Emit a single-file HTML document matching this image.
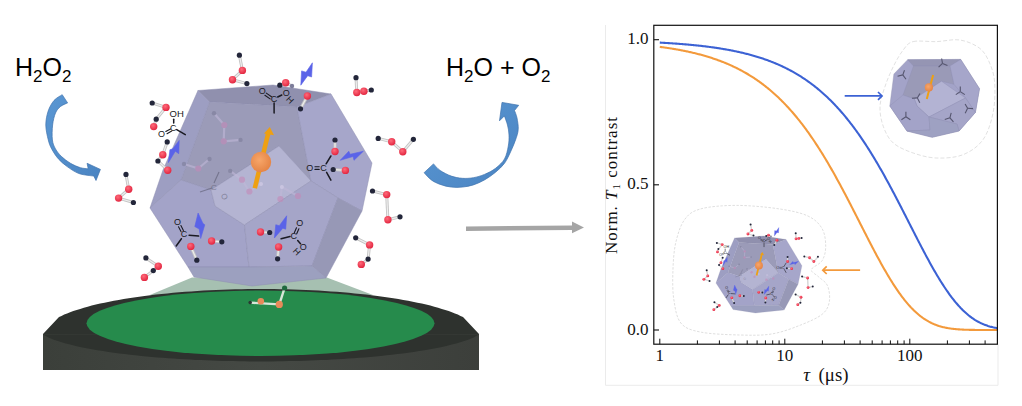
<!DOCTYPE html>
<html><head><meta charset="utf-8"><style>
html,body{margin:0;padding:0;background:#fff;width:1022px;height:406px;overflow:hidden}
svg{display:block;font-family:"Liberation Sans",sans-serif}
</style></head><body><svg width="1022" height="406" viewBox="0 0 1022 406"><defs><linearGradient id="side" x1="0" y1="0" x2="1" y2="0"><stop offset="0" stop-color="#3b3f3a"/><stop offset="0.5" stop-color="#454944"/><stop offset="1" stop-color="#3c3f3b"/></linearGradient><linearGradient id="barrow" x1="0" y1="0" x2="1" y2="1"><stop offset="0" stop-color="#5a97d3"/><stop offset="1" stop-color="#4a84c2"/></linearGradient><radialGradient id="ball" cx="0.42" cy="0.4" r="0.65"><stop offset="0" stop-color="#f7a66a"/><stop offset="1" stop-color="#e48242"/></radialGradient><radialGradient id="rball" cx="0.4" cy="0.35" r="0.7"><stop offset="0" stop-color="#ff6a7a"/><stop offset="1" stop-color="#e0213c"/></radialGradient><clipPath id="platclip"><rect x="43" y="250" width="436" height="130"/></clipPath></defs><polygon points="192.0,277.5 326.8,277.5 373.0,295.0 149.8,295.0" fill="#a6c0b1" /><path d="M43,334 L43,370 L479,370 L479,334 Z" fill="url(#side)"/><polygon points="43.0,334.0 59.0,317.1 61.5,315.9 64.2,314.6 67.1,313.4 70.1,312.3 73.3,311.1 76.7,310.0 80.2,308.9 83.9,307.8 87.7,306.7 91.7,305.6 95.9,304.6 100.2,303.6 104.6,302.7 109.2,301.7 113.9,300.8 118.7,299.9 123.7,299.1 128.7,298.2 133.9,297.4 139.2,296.7 144.6,295.9 150.2,295.3 155.8,294.6 161.5,294.0 167.3,293.4 173.1,292.8 179.1,292.3 185.1,291.8 191.2,291.4 197.3,291.0 203.5,290.6 209.8,290.3 216.1,290.0 222.4,289.7 228.8,289.5 235.2,289.3 241.6,289.2 248.1,289.1 254.5,289.0 261.0,289.0 267.5,289.0 273.9,289.1 280.4,289.2 286.8,289.3 293.2,289.5 299.6,289.7 305.9,290.0 312.2,290.3 318.5,290.6 324.7,291.0 330.8,291.4 336.9,291.8 342.9,292.3 348.9,292.8 354.7,293.4 360.5,294.0 366.2,294.6 371.8,295.3 377.4,295.9 382.8,296.7 388.1,297.4 393.3,298.2 398.3,299.1 403.3,299.9 408.1,300.8 412.8,301.7 417.4,302.7 421.8,303.6 426.1,304.6 430.3,305.6 434.3,306.7 438.1,307.8 441.8,308.9 445.3,310.0 448.7,311.1 451.9,312.3 454.9,313.4 457.8,314.6 460.5,315.9 463.0,317.1 479.0,334.0 43.0,334.5 48.5,337.4 53.9,339.7 59.4,341.5 64.8,343.2 70.2,344.6 75.7,346.0 81.2,347.2 86.6,348.3 92.0,349.3 97.5,350.2 103.0,351.1 108.4,351.9 113.8,352.7 119.3,353.4 124.8,354.1 130.2,354.7 135.7,355.3 141.1,355.9 146.6,356.4 152.0,356.9 157.4,357.4 162.9,357.8 168.3,358.2 173.8,358.6 179.2,359.0 184.7,359.3 190.2,359.6 195.6,359.9 201.1,360.1 206.5,360.3 211.9,360.5 217.4,360.7 222.8,360.9 228.3,361.0 233.8,361.1 239.2,361.2 244.7,361.3 250.1,361.4 255.6,361.4 261.0,361.4 266.4,361.4 271.9,361.4 277.4,361.3 282.8,361.2 288.2,361.1 293.7,361.0 299.1,360.9 304.6,360.7 310.1,360.5 315.5,360.3 320.9,360.1 326.4,359.9 331.9,359.6 337.3,359.3 342.8,359.0 348.2,358.6 353.6,358.2 359.1,357.8 364.6,357.4 370.0,356.9 375.4,356.4 380.9,355.9 386.4,355.3 391.8,354.7 397.2,354.1 402.7,353.4 408.1,352.7 413.6,351.9 419.1,351.1 424.5,350.2 429.9,349.3 435.4,348.3 440.9,347.2 446.3,346.0 451.8,344.6 457.2,343.2 462.6,341.5 468.1,339.7 473.6,337.4 479.0,334.5" fill="#2e322e" /><ellipse cx="260.5" cy="323.3" rx="174" ry="32.7" fill="#268b4c"/><g><line x1="250.2" y1="302.6" x2="279.3" y2="304.4" stroke="#d8e6d8" stroke-width="2.4"/><line x1="279.3" y1="304.4" x2="284.6" y2="288" stroke="#d8e6d8" stroke-width="2.4"/><circle cx="250.2" cy="302.6" r="1.8" fill="#2b3a33"/><circle cx="260.8" cy="301.2" r="3.3" fill="#e88a5a"/><circle cx="279.3" cy="304.4" r="3.6" fill="#e88a5a"/><circle cx="284.6" cy="288" r="2.6" fill="#1f6a3e"/></g><polygon points="198.0,90.5 273.0,85.0 331.0,94.0 297.0,107.0 209.5,102.0" fill="#9090ae" stroke="#8f8fb0" stroke-width="0.5" stroke-linejoin="round"/><polygon points="209.5,102.0 297.0,107.0 311.0,181.0 279.0,146.0 211.0,190.0 181.0,180.0" fill="#9b9bb8" stroke="#8f8fb0" stroke-width="0.5" stroke-linejoin="round"/><polygon points="198.0,90.5 209.5,102.0 181.0,180.0 150.0,208.0 163.0,170.0" fill="#9d9ec2" stroke="#8f8fb0" stroke-width="0.5" stroke-linejoin="round"/><polygon points="331.0,94.0 372.0,163.0 362.0,211.0 338.0,198.0 311.0,181.0 297.0,107.0" fill="#a6a6ca" stroke="#8f8fb0" stroke-width="0.5" stroke-linejoin="round"/><polygon points="150.0,208.0 181.0,180.0 211.0,190.0 215.0,206.0 244.5,225.0 249.0,267.0 188.0,267.0" fill="#a3a3c8" stroke="#8f8fb0" stroke-width="0.5" stroke-linejoin="round"/><polygon points="211.0,190.0 279.0,146.0 311.0,181.0 244.5,225.0 215.0,206.0" fill="#b4b4d2" stroke="#8f8fb0" stroke-width="0.5" stroke-linejoin="round"/><polygon points="244.5,225.0 311.0,181.0 338.0,198.0 312.0,266.0 249.0,267.0" fill="#a5a5c8" stroke="#8f8fb0" stroke-width="0.5" stroke-linejoin="round"/><polygon points="338.0,198.0 362.0,211.0 326.0,278.0 312.0,266.0" fill="#9798b6" stroke="#8f8fb0" stroke-width="0.5" stroke-linejoin="round"/><polygon points="188.0,267.0 249.0,267.0 312.0,266.0 326.0,278.0 252.0,286.0 194.0,277.0" fill="#9ca0bf" stroke="#8f8fb0" stroke-width="0.5" stroke-linejoin="round"/><g opacity="0.60"><line x1="214.0" y1="113.3" x2="224.3" y2="125.0" stroke="#c0b8d8" stroke-width="2.2"/><line x1="224.3" y1="125.0" x2="223.7" y2="141.3" stroke="#c0b8d8" stroke-width="2.2"/><line x1="223.7" y1="141.3" x2="240.5" y2="139.9" stroke="#c0b8d8" stroke-width="2.2"/><circle cx="214.0" cy="113.3" r="2.2" fill="#7d7d9a"/><circle cx="224.3" cy="125.0" r="3.1" fill="#c48ab8"/><circle cx="223.7" cy="141.3" r="3.1" fill="#c48ab8"/><circle cx="240.5" cy="139.9" r="2.2" fill="#7d7d9a"/></g><g opacity="0.60"><line x1="209.5" y1="159.0" x2="198.3" y2="168.5" stroke="#c0b8d8" stroke-width="2.2"/><line x1="198.3" y1="168.5" x2="184.0" y2="164.0" stroke="#c0b8d8" stroke-width="2.2"/><circle cx="209.5" cy="159.0" r="2.2" fill="#7d7d9a"/><circle cx="198.3" cy="168.5" r="3.1" fill="#c48ab8"/><circle cx="184.0" cy="164.0" r="2.2" fill="#7d7d9a"/></g><g opacity="0.60"><line x1="230.2" y1="170.9" x2="242.0" y2="179.7" stroke="#c0b8d8" stroke-width="2.2"/><line x1="242.0" y1="179.7" x2="249.4" y2="191.5" stroke="#c0b8d8" stroke-width="2.2"/><line x1="249.4" y1="191.5" x2="261.0" y2="184.0" stroke="#c0b8d8" stroke-width="2.2"/><circle cx="230.2" cy="170.9" r="2.2" fill="#7d7d9a"/><circle cx="242.0" cy="179.7" r="3.1" fill="#c48ab8"/><circle cx="249.4" cy="191.5" r="3.1" fill="#c48ab8"/><circle cx="261.0" cy="184.0" r="2.0" fill="#d8d0ea"/></g><g opacity="0.60"><line x1="280.4" y1="199.0" x2="281.9" y2="187.0" stroke="#c0b8d8" stroke-width="2.2"/><line x1="281.9" y1="187.0" x2="298.0" y2="196.0" stroke="#c0b8d8" stroke-width="2.2"/><circle cx="280.4" cy="199.0" r="3.1" fill="#c48ab8"/><circle cx="281.9" cy="187.0" r="2.0" fill="#d8d0ea"/><circle cx="298.0" cy="196.0" r="3.1" fill="#c48ab8"/></g><g opacity="0.55"><line x1="200" y1="192" x2="212" y2="188" stroke="#55556a" stroke-width="1.1"/><line x1="214" y1="183" x2="219" y2="172" stroke="#55556a" stroke-width="1.1"/><text x="214" y="190" font-family="Liberation Sans" font-size="8" fill="#55556a" text-anchor="middle">C</text><text transform="translate(222,198) rotate(60)" font-family="Liberation Sans" font-size="8" fill="#55556a" text-anchor="middle">O</text></g><line x1="254.8" y1="188.3" x2="268.3" y2="133" stroke="#eea012" stroke-width="4.6"/><polygon points="264.0,133.5 274.0,135.3 269.8,127.0" fill="#eea012" /><circle cx="261" cy="162" r="10.2" fill="url(#ball)"/><g opacity="1.00"><line x1="152.2" y1="103.0" x2="166.0" y2="107.4" stroke="#c4c4c4" stroke-width="3"/><line x1="152.2" y1="103.0" x2="166.0" y2="107.4" stroke="#eeeeee" stroke-width="1.2"/><line x1="166.0" y1="107.4" x2="156.2" y2="119.2" stroke="#c4c4c4" stroke-width="3"/><line x1="166.0" y1="107.4" x2="156.2" y2="119.2" stroke="#eeeeee" stroke-width="1.2"/><line x1="156.2" y1="119.2" x2="153.7" y2="126.6" stroke="#c4c4c4" stroke-width="3"/><line x1="156.2" y1="119.2" x2="153.7" y2="126.6" stroke="#eeeeee" stroke-width="1.2"/><circle cx="152.2" cy="103.0" r="2.6" fill="#23263a"/><circle cx="166.0" cy="107.4" r="3.7" fill="url(#rball)"/><circle cx="156.2" cy="119.2" r="2.6" fill="#23263a"/><circle cx="153.7" cy="126.6" r="3.7" fill="url(#rball)"/></g><g opacity="1.00"><line x1="167.2" y1="141.9" x2="162.8" y2="154.7" stroke="#c4c4c4" stroke-width="3"/><line x1="167.2" y1="141.9" x2="162.8" y2="154.7" stroke="#eeeeee" stroke-width="1.2"/><line x1="162.8" y1="154.7" x2="157.9" y2="161.0" stroke="#c4c4c4" stroke-width="3"/><line x1="162.8" y1="154.7" x2="157.9" y2="161.0" stroke="#eeeeee" stroke-width="1.2"/><line x1="157.9" y1="161.0" x2="167.7" y2="170.2" stroke="#c4c4c4" stroke-width="3"/><line x1="157.9" y1="161.0" x2="167.7" y2="170.2" stroke="#eeeeee" stroke-width="1.2"/><circle cx="167.2" cy="141.9" r="2.6" fill="#23263a"/><circle cx="162.8" cy="154.7" r="3.7" fill="url(#rball)"/><circle cx="157.9" cy="161.0" r="2.6" fill="#23263a"/><circle cx="167.7" cy="170.2" r="3.7" fill="url(#rball)"/></g><g opacity="1.00"><line x1="126.0" y1="174.4" x2="128.7" y2="189.2" stroke="#c4c4c4" stroke-width="3"/><line x1="126.0" y1="174.4" x2="128.7" y2="189.2" stroke="#eeeeee" stroke-width="1.2"/><line x1="128.7" y1="189.2" x2="118.6" y2="198.1" stroke="#c4c4c4" stroke-width="3"/><line x1="128.7" y1="189.2" x2="118.6" y2="198.1" stroke="#eeeeee" stroke-width="1.2"/><line x1="118.6" y1="198.1" x2="133.4" y2="202.5" stroke="#c4c4c4" stroke-width="3"/><line x1="118.6" y1="198.1" x2="133.4" y2="202.5" stroke="#eeeeee" stroke-width="1.2"/><circle cx="126.0" cy="174.4" r="2.6" fill="#23263a"/><circle cx="128.7" cy="189.2" r="3.7" fill="url(#rball)"/><circle cx="118.6" cy="198.1" r="3.7" fill="url(#rball)"/><circle cx="133.4" cy="202.5" r="2.6" fill="#23263a"/></g><g opacity="1.00"><line x1="145.9" y1="257.9" x2="158.3" y2="266.2" stroke="#c4c4c4" stroke-width="3"/><line x1="145.9" y1="257.9" x2="158.3" y2="266.2" stroke="#eeeeee" stroke-width="1.2"/><line x1="158.3" y1="266.2" x2="153.3" y2="270.6" stroke="#c4c4c4" stroke-width="3"/><line x1="158.3" y1="266.2" x2="153.3" y2="270.6" stroke="#eeeeee" stroke-width="1.2"/><line x1="153.3" y1="270.6" x2="144.4" y2="277.4" stroke="#c4c4c4" stroke-width="3"/><line x1="153.3" y1="270.6" x2="144.4" y2="277.4" stroke="#eeeeee" stroke-width="1.2"/><circle cx="145.9" cy="257.9" r="2.6" fill="#23263a"/><circle cx="158.3" cy="266.2" r="3.7" fill="url(#rball)"/><circle cx="153.3" cy="270.6" r="2.6" fill="#23263a"/><circle cx="144.4" cy="277.4" r="3.7" fill="url(#rball)"/></g><g opacity="1.00"><line x1="239.4" y1="55.2" x2="242.4" y2="70.4" stroke="#c4c4c4" stroke-width="3"/><line x1="239.4" y1="55.2" x2="242.4" y2="70.4" stroke="#eeeeee" stroke-width="1.2"/><line x1="242.4" y1="70.4" x2="232.5" y2="79.7" stroke="#c4c4c4" stroke-width="3"/><line x1="242.4" y1="70.4" x2="232.5" y2="79.7" stroke="#eeeeee" stroke-width="1.2"/><line x1="232.5" y1="79.7" x2="246.9" y2="83.6" stroke="#c4c4c4" stroke-width="3"/><line x1="232.5" y1="79.7" x2="246.9" y2="83.6" stroke="#eeeeee" stroke-width="1.2"/><circle cx="239.4" cy="55.2" r="2.6" fill="#23263a"/><circle cx="242.4" cy="70.4" r="3.7" fill="url(#rball)"/><circle cx="232.5" cy="79.7" r="3.7" fill="url(#rball)"/><circle cx="246.9" cy="83.6" r="2.6" fill="#23263a"/></g><g opacity="1.00"><line x1="279.8" y1="85.2" x2="285.7" y2="82.8" stroke="#c4c4c4" stroke-width="3"/><line x1="279.8" y1="85.2" x2="285.7" y2="82.8" stroke="#eeeeee" stroke-width="1.2"/><line x1="285.7" y1="82.8" x2="292.0" y2="86.0" stroke="#c4c4c4" stroke-width="3"/><line x1="285.7" y1="82.8" x2="292.0" y2="86.0" stroke="#eeeeee" stroke-width="1.2"/><circle cx="279.8" cy="85.2" r="2.6" fill="#23263a"/><circle cx="285.7" cy="82.8" r="3.7" fill="url(#rball)"/><circle cx="292.0" cy="86.0" r="2.2" fill="#7d7d9a"/></g><g opacity="1.00"><line x1="307.4" y1="96.0" x2="300.5" y2="108.8" stroke="#c4c4c4" stroke-width="3"/><line x1="307.4" y1="96.0" x2="300.5" y2="108.8" stroke="#eeeeee" stroke-width="1.2"/><circle cx="307.4" cy="96.0" r="3.7" fill="url(#rball)"/><circle cx="300.5" cy="108.8" r="2.6" fill="#23263a"/></g><g opacity="1.00"><line x1="356.0" y1="77.7" x2="356.8" y2="92.5" stroke="#c4c4c4" stroke-width="3"/><line x1="356.0" y1="77.7" x2="356.8" y2="92.5" stroke="#eeeeee" stroke-width="1.2"/><line x1="356.8" y1="92.5" x2="363.9" y2="91.3" stroke="#c4c4c4" stroke-width="3"/><line x1="356.8" y1="92.5" x2="363.9" y2="91.3" stroke="#eeeeee" stroke-width="1.2"/><line x1="363.9" y1="91.3" x2="371.3" y2="90.0" stroke="#c4c4c4" stroke-width="3"/><line x1="363.9" y1="91.3" x2="371.3" y2="90.0" stroke="#eeeeee" stroke-width="1.2"/><circle cx="356.0" cy="77.7" r="2.6" fill="#23263a"/><circle cx="356.8" cy="92.5" r="3.7" fill="url(#rball)"/><circle cx="363.9" cy="91.3" r="3.7" fill="url(#rball)"/><circle cx="371.3" cy="90.0" r="2.6" fill="#23263a"/></g><g opacity="1.00"><line x1="378.2" y1="138.4" x2="391.7" y2="141.8" stroke="#c4c4c4" stroke-width="3"/><line x1="378.2" y1="138.4" x2="391.7" y2="141.8" stroke="#eeeeee" stroke-width="1.2"/><line x1="391.7" y1="141.8" x2="402.8" y2="151.7" stroke="#c4c4c4" stroke-width="3"/><line x1="391.7" y1="141.8" x2="402.8" y2="151.7" stroke="#eeeeee" stroke-width="1.2"/><line x1="402.8" y1="151.7" x2="413.4" y2="139.3" stroke="#c4c4c4" stroke-width="3"/><line x1="402.8" y1="151.7" x2="413.4" y2="139.3" stroke="#eeeeee" stroke-width="1.2"/><circle cx="378.2" cy="138.4" r="2.6" fill="#23263a"/><circle cx="391.7" cy="141.8" r="3.7" fill="url(#rball)"/><circle cx="402.8" cy="151.7" r="3.7" fill="url(#rball)"/><circle cx="413.4" cy="139.3" r="2.6" fill="#23263a"/></g><g opacity="1.00"><line x1="372.5" y1="191.0" x2="386.7" y2="194.6" stroke="#c4c4c4" stroke-width="3"/><line x1="372.5" y1="191.0" x2="386.7" y2="194.6" stroke="#eeeeee" stroke-width="1.2"/><line x1="386.7" y1="194.6" x2="387.9" y2="219.8" stroke="#c4c4c4" stroke-width="3"/><line x1="386.7" y1="194.6" x2="387.9" y2="219.8" stroke="#eeeeee" stroke-width="1.2"/><line x1="387.9" y1="219.8" x2="400.0" y2="216.8" stroke="#c4c4c4" stroke-width="3"/><line x1="387.9" y1="219.8" x2="400.0" y2="216.8" stroke="#eeeeee" stroke-width="1.2"/><circle cx="372.5" cy="191.0" r="2.6" fill="#23263a"/><circle cx="386.7" cy="194.6" r="3.7" fill="url(#rball)"/><circle cx="387.9" cy="219.8" r="3.7" fill="url(#rball)"/><circle cx="400.0" cy="216.8" r="2.6" fill="#23263a"/></g><g opacity="1.00"><line x1="355.7" y1="237.8" x2="369.6" y2="244.9" stroke="#c4c4c4" stroke-width="3"/><line x1="355.7" y1="237.8" x2="369.6" y2="244.9" stroke="#eeeeee" stroke-width="1.2"/><line x1="369.6" y1="244.9" x2="368.1" y2="259.1" stroke="#c4c4c4" stroke-width="3"/><line x1="369.6" y1="244.9" x2="368.1" y2="259.1" stroke="#eeeeee" stroke-width="1.2"/><line x1="368.1" y1="259.1" x2="361.3" y2="264.4" stroke="#c4c4c4" stroke-width="3"/><line x1="368.1" y1="259.1" x2="361.3" y2="264.4" stroke="#eeeeee" stroke-width="1.2"/><circle cx="355.7" cy="237.8" r="2.6" fill="#23263a"/><circle cx="369.6" cy="244.9" r="3.7" fill="url(#rball)"/><circle cx="368.1" cy="259.1" r="2.6" fill="#23263a"/><circle cx="361.3" cy="264.4" r="3.7" fill="url(#rball)"/></g><g opacity="1.00"><line x1="335.0" y1="140.0" x2="335.0" y2="151.5" stroke="#c4c4c4" stroke-width="3"/><line x1="335.0" y1="140.0" x2="335.0" y2="151.5" stroke="#eeeeee" stroke-width="1.2"/><circle cx="335.0" cy="140.0" r="2.6" fill="#23263a"/><circle cx="335.0" cy="151.5" r="3.7" fill="url(#rball)"/></g><g opacity="1.00"><line x1="333.2" y1="169.5" x2="345.4" y2="170.4" stroke="#c4c4c4" stroke-width="3"/><line x1="333.2" y1="169.5" x2="345.4" y2="170.4" stroke="#eeeeee" stroke-width="1.2"/><circle cx="333.2" cy="169.5" r="2.6" fill="#23263a"/><circle cx="345.4" cy="170.4" r="3.7" fill="url(#rball)"/></g><g opacity="1.00"><line x1="190.8" y1="246.4" x2="196.8" y2="260.2" stroke="#c4c4c4" stroke-width="3"/><line x1="190.8" y1="246.4" x2="196.8" y2="260.2" stroke="#eeeeee" stroke-width="1.2"/><circle cx="190.8" cy="246.4" r="3.7" fill="url(#rball)"/><circle cx="196.8" cy="260.2" r="2.6" fill="#23263a"/></g><g opacity="1.00"><line x1="211.6" y1="241.0" x2="221.8" y2="241.8" stroke="#c4c4c4" stroke-width="3"/><line x1="211.6" y1="241.0" x2="221.8" y2="241.8" stroke="#eeeeee" stroke-width="1.2"/><circle cx="211.6" cy="241.0" r="3.7" fill="url(#rball)"/><circle cx="221.8" cy="241.8" r="2.6" fill="#23263a"/></g><g opacity="1.00"><line x1="260.5" y1="232.0" x2="269.7" y2="232.5" stroke="#c4c4c4" stroke-width="3"/><line x1="260.5" y1="232.0" x2="269.7" y2="232.5" stroke="#eeeeee" stroke-width="1.2"/><circle cx="260.5" cy="232.0" r="3.7" fill="url(#rball)"/><circle cx="269.7" cy="232.5" r="2.6" fill="#23263a"/></g><g opacity="1.00"><line x1="278.6" y1="247.0" x2="277.6" y2="258.8" stroke="#c4c4c4" stroke-width="3"/><line x1="278.6" y1="247.0" x2="277.6" y2="258.8" stroke="#eeeeee" stroke-width="1.2"/><circle cx="278.6" cy="247.0" r="3.7" fill="url(#rball)"/><circle cx="277.6" cy="258.8" r="2.6" fill="#23263a"/></g><text transform="translate(262.3,91.3) rotate(0.0)" font-family="Liberation Sans" font-size="9.0" text-anchor="middle" dominant-baseline="central" fill="#1a1a22">O</text><line x1="264.9" y1="95.3" x2="270.1" y2="98.9" stroke="#1a1a22" stroke-width="1.1" stroke-linecap="round"/><line x1="266.3" y1="93.1" x2="271.5" y2="96.7" stroke="#1a1a22" stroke-width="1.1" stroke-linecap="round"/><text transform="translate(274.1,99.1) rotate(0.0)" font-family="Liberation Sans" font-size="9.0" text-anchor="middle" dominant-baseline="central" fill="#1a1a22">C</text><line x1="277.7" y1="97.0" x2="281.8" y2="95.0" stroke="#1a1a22" stroke-width="1.5" stroke-linecap="round"/><text transform="translate(286.3,92.6) rotate(0.0)" font-family="Liberation Sans" font-size="9.0" text-anchor="middle" dominant-baseline="central" fill="#1a1a22">O</text><text transform="translate(289.9,99.9) rotate(45.0)" font-family="Liberation Sans" font-size="9.0" text-anchor="middle" dominant-baseline="central" fill="#1a1a22">H</text><line x1="274.1" y1="103.0" x2="274.1" y2="112.9" stroke="#1a1a22" stroke-width="1.5" stroke-linecap="round"/><text transform="translate(176.7,113.6) rotate(0.0)" font-family="Liberation Sans" font-size="9.5" text-anchor="middle" dominant-baseline="central" fill="#1a1a22">OH</text><line x1="173.7" y1="119.2" x2="173.7" y2="123.1" stroke="#1a1a22" stroke-width="1.5" stroke-linecap="round"/><text transform="translate(173.3,128.3) rotate(0.0)" font-family="Liberation Sans" font-size="9.0" text-anchor="middle" dominant-baseline="central" fill="#1a1a22">C</text><line x1="170.5" y1="128.9" x2="165.8" y2="131.5" stroke="#1a1a22" stroke-width="1.1" stroke-linecap="round"/><line x1="171.7" y1="131.1" x2="167.0" y2="133.7" stroke="#1a1a22" stroke-width="1.1" stroke-linecap="round"/><text transform="translate(161.6,134.3) rotate(0.0)" font-family="Liberation Sans" font-size="9.0" text-anchor="middle" dominant-baseline="central" fill="#1a1a22">O</text><line x1="176.7" y1="129.6" x2="185.3" y2="134.7" stroke="#1a1a22" stroke-width="1.5" stroke-linecap="round"/><text transform="translate(177.5,221.5) rotate(0.0)" font-family="Liberation Sans" font-size="9.0" text-anchor="middle" dominant-baseline="central" fill="#1a1a22">O</text><line x1="178.5" y1="226.8" x2="181.0" y2="231.6" stroke="#1a1a22" stroke-width="1.1" stroke-linecap="round"/><line x1="180.9" y1="225.6" x2="183.4" y2="230.4" stroke="#1a1a22" stroke-width="1.1" stroke-linecap="round"/><text transform="translate(184.0,234.4) rotate(0.0)" font-family="Liberation Sans" font-size="9.0" text-anchor="middle" dominant-baseline="central" fill="#1a1a22">C</text><line x1="189.1" y1="235.3" x2="198.6" y2="236.1" stroke="#1a1a22" stroke-width="1.5" stroke-linecap="round"/><line x1="181.4" y1="238.7" x2="176.2" y2="246.0" stroke="#1a1a22" stroke-width="1.5" stroke-linecap="round"/><text transform="translate(309.7,168.1) rotate(0.0)" font-family="Liberation Sans" font-size="9.0" text-anchor="middle" dominant-baseline="central" fill="#1a1a22">O</text><line x1="314.9" y1="169.4" x2="319.2" y2="169.4" stroke="#1a1a22" stroke-width="1.1" stroke-linecap="round"/><line x1="314.9" y1="166.8" x2="319.2" y2="166.8" stroke="#1a1a22" stroke-width="1.1" stroke-linecap="round"/><text transform="translate(323.5,168.1) rotate(0.0)" font-family="Liberation Sans" font-size="9.0" text-anchor="middle" dominant-baseline="central" fill="#1a1a22">C</text><line x1="326.1" y1="163.8" x2="330.9" y2="156.0" stroke="#1a1a22" stroke-width="1.5" stroke-linecap="round"/><line x1="326.6" y1="172.4" x2="330.9" y2="180.2" stroke="#1a1a22" stroke-width="1.5" stroke-linecap="round"/><text transform="translate(299.7,222.8) rotate(0.0)" font-family="Liberation Sans" font-size="9.0" text-anchor="middle" dominant-baseline="central" fill="#1a1a22">O</text><line x1="296.5" y1="227.8" x2="294.3" y2="232.8" stroke="#1a1a22" stroke-width="1.1" stroke-linecap="round"/><line x1="298.9" y1="228.8" x2="296.7" y2="233.8" stroke="#1a1a22" stroke-width="1.1" stroke-linecap="round"/><text transform="translate(293.8,236.0) rotate(0.0)" font-family="Liberation Sans" font-size="9.0" text-anchor="middle" dominant-baseline="central" fill="#1a1a22">C</text><line x1="297.7" y1="240.5" x2="300.5" y2="243.8" stroke="#1a1a22" stroke-width="1.5" stroke-linecap="round"/><text transform="translate(303.3,247.1) rotate(0.0)" font-family="Liberation Sans" font-size="9.0" text-anchor="middle" dominant-baseline="central" fill="#1a1a22">O</text><text transform="translate(296.6,251.6) rotate(45.0)" font-family="Liberation Sans" font-size="9.0" text-anchor="middle" dominant-baseline="central" fill="#1a1a22">H</text><line x1="290.0" y1="236.6" x2="281.1" y2="238.8" stroke="#1a1a22" stroke-width="1.5" stroke-linecap="round"/><polygon points="312.4,62.8 311.6,77.0 307.7,75.7 300.8,85.2 301.6,70.9 306.0,72.2" fill="#5a63e8" stroke="#5a63e8" stroke-width="0.6" stroke-linejoin="round"/><polygon points="363.4,151.2 354.0,160.3 353.1,156.5 340.2,160.3 348.8,151.2 350.1,154.3" fill="#5a63e8" stroke="#5a63e8" stroke-width="0.6" stroke-linejoin="round"/><polygon points="179.2,140.4 178.8,153.7 175.3,151.2 168.4,162.6 169.9,149.7 172.8,148.8" fill="#5a63e8" stroke="#5a63e8" stroke-width="0.6" stroke-linejoin="round"/><polygon points="286.7,215.8 285.7,229.2 282.8,228.2 274.4,238.0 275.8,224.7 279.3,225.7" fill="#5a63e8" stroke="#5a63e8" stroke-width="0.6" stroke-linejoin="round"/><polygon points="198.1,213.0 203.0,223.5 204.8,224.8 200.7,238.5 199.2,229.0 194.8,226.6" fill="#5a63e8" stroke="#5a63e8" stroke-width="0.6" stroke-linejoin="round"/><text x="15" y="76" font-family="Liberation Sans" font-size="25" fill="#000">H<tspan font-size="17" dy="6">2</tspan><tspan dy="-6">O</tspan><tspan font-size="17" dy="6">2</tspan></text><text x="446" y="76" font-family="Liberation Sans" font-size="25" fill="#000">H<tspan font-size="17" dy="6">2</tspan><tspan dy="-6">O + O</tspan><tspan font-size="17" dy="6">2</tspan></text><path d="M62.2,94.7 C60.8,95.7 56.3,97.8 54.0,100.5 C51.7,103.2 49.6,106.9 48.2,111.0 C46.8,115.1 45.8,120.2 45.8,125.0 C45.8,129.8 47.3,136.0 48.3,140.0 C49.3,144.0 50.0,145.8 51.7,148.9 C53.4,152.0 55.7,155.9 58.3,158.8 C60.9,161.8 63.9,164.2 67.2,166.6 C70.5,169.0 74.6,171.8 78.3,173.3 C82.0,174.8 86.7,175.1 89.3,175.5 C91.9,175.9 93.0,175.9 93.8,176.0 L96,180.5 L100.4,169.4 L87.1,163.3 L88.2,168.8 C86.9,168.6 83.5,168.6 80.5,167.7 C77.5,166.8 73.7,165.2 70.5,163.3 C67.3,161.5 64.1,159.0 61.6,156.6 C59.1,154.2 57.0,151.7 55.5,148.9 C54.0,146.1 52.9,144.0 52.4,140.0 C51.9,136.0 52.1,129.5 52.6,125.0 C53.1,120.5 54.2,116.1 55.5,113.0 C56.8,109.9 58.5,108.2 60.5,106.5 C62.5,104.8 66.4,103.5 67.6,102.9 Z" fill="url(#barrow)" stroke="#3f73ad" stroke-width="0.7"/><path d="M424.1,172.7 C425.3,173.9 428.6,177.9 431.3,179.9 C434.0,181.9 436.9,183.2 440.2,184.4 C443.5,185.6 447.6,186.7 451.3,187.1 C455.0,187.5 458.6,187.5 462.3,187.1 C466.0,186.7 469.7,186.1 473.4,184.9 C477.1,183.7 480.8,182.0 484.5,179.9 C488.2,177.8 492.3,175.0 495.6,172.2 C498.9,169.4 502.0,166.7 504.5,163.3 C507.0,159.9 508.7,155.9 510.5,152.0 C512.3,148.1 514.2,143.8 515.5,140.0 C516.8,136.2 518.0,133.1 518.2,129.4 C518.5,125.7 517.6,121.2 517.0,118.0 C516.4,114.8 514.9,111.8 514.5,110.5 L518.7,105.3 L502,102.4 L499.5,120.8 L504.4,115.9 C504.9,117.4 506.7,121.8 507.5,125.0 C508.3,128.2 508.9,131.5 509.0,135.0 C509.1,138.5 509.1,142.0 508.3,146.0 C507.6,150.0 506.6,155.2 504.5,158.9 C502.4,162.6 498.9,165.7 495.6,168.3 C492.3,170.9 488.2,172.8 484.5,174.4 C480.8,176.0 477.1,177.0 473.4,177.7 C469.7,178.3 466.0,178.6 462.3,178.3 C458.6,178.0 455.0,177.4 451.3,176.1 C447.6,174.8 443.2,172.5 440.2,170.5 C437.2,168.5 434.6,165.0 433.5,163.9 Z" fill="url(#barrow)" stroke="#3f73ad" stroke-width="0.7"/><polygon points="466.0,226.5 572.0,225.5 572.0,221.6 584.0,227.4 572.0,233.3 572.0,230.0 466.0,231.0" fill="#a5a5a5" /><path d="M605.5,25 V385.3 H998 V344" fill="none" stroke="#ebebeb" stroke-width="1"/><path d="M700.7,208.9 C709.3,206.5 723.3,205.4 736.4,205.4 C749.5,205.4 767.4,207.1 779.3,208.9 C791.2,210.7 800.8,212.7 807.9,216.0 C815.0,219.3 819.1,223.5 822.1,228.6 C825.1,233.7 825.7,241.1 825.7,246.4 C825.7,251.8 824.5,256.8 822.1,260.7 C819.7,264.6 812.0,266.9 811.4,269.6 C810.8,272.3 815.9,274.1 818.6,276.8 C821.3,279.5 825.7,281.5 827.5,285.7 C829.3,289.9 830.2,297.0 829.3,301.8 C828.4,306.6 826.9,310.4 822.1,314.3 C817.3,318.2 809.0,321.7 800.7,325.0 C792.4,328.3 782.2,332.2 772.1,333.9 C762.0,335.6 751.9,335.3 740.0,335.0 C728.1,334.7 710.5,334.1 700.7,332.1 C690.9,330.1 685.5,328.6 681.0,323.2 C676.5,317.8 675.2,308.6 673.9,300.0 C672.5,291.4 672.6,280.9 672.9,271.4 C673.2,261.9 673.8,251.5 675.7,242.9 C677.7,234.3 680.4,225.3 684.6,219.6 C688.8,213.9 692.1,211.3 700.7,208.9 Z" fill="none" stroke="#cdcdcd" stroke-width="0.65" stroke-dasharray="2.5,1.5"/><path d="M913.2,41.6 C918.8,40.2 928.7,41.9 936.5,41.6 C944.3,41.3 952.6,38.9 959.8,40.0 C967.0,41.1 974.7,44.4 979.7,48.3 C984.7,52.2 987.2,57.4 989.7,63.2 C992.2,69.0 994.2,74.9 994.7,83.2 C995.2,91.5 995.0,103.7 993.0,113.1 C991.0,122.5 988.0,132.8 983.0,139.7 C978.0,146.6 970.8,151.6 963.0,154.7 C955.2,157.8 944.8,158.3 936.5,158.0 C928.2,157.7 920.4,155.5 913.2,153.0 C906.0,150.5 898.3,147.4 893.3,143.0 C888.3,138.6 885.5,132.5 883.3,126.4 C881.1,120.3 879.7,113.2 880.0,106.5 C880.3,99.8 882.8,93.2 885.0,86.5 C887.2,79.8 890.3,72.7 893.3,66.6 C896.3,60.5 899.9,54.2 903.2,50.0 C906.5,45.8 907.7,43.0 913.2,41.6 Z" fill="none" stroke="#d0d0d0" stroke-width="0.65" stroke-dasharray="4,2"/><polygon points="907.7,59.7 960.7,59.4 979.5,88.7 975.4,112.4 959.1,131.0 932.2,137.3 906.9,131.0 889.8,105.9 893.9,74.0" fill="#a3a3c8" stroke="#8f8fb0" stroke-width="0.4"/><polygon points="907.7,59.7 960.7,59.4 950.0,66.0 913.5,66.0" fill="#9595b3" stroke="#9090b2" stroke-width="0.4" stroke-linejoin="round"/><polygon points="913.5,66.0 950.0,66.0 954.0,84.3 941.5,81.2 914.3,99.0 903.0,95.0" fill="#9a9ab7" stroke="#9090b2" stroke-width="0.4" stroke-linejoin="round"/><polygon points="960.7,59.4 979.5,88.7 975.4,112.4 965.5,98.0 954.0,84.3 950.0,66.0" fill="#a6a6ca" stroke="#9090b2" stroke-width="0.4" stroke-linejoin="round"/><polygon points="914.3,99.0 941.5,81.2 965.5,98.0 929.0,117.0 917.0,106.0" fill="#b3b3d3" stroke="#9090b2" stroke-width="0.4" stroke-linejoin="round"/><polygon points="965.5,98.0 975.4,112.4 959.1,131.0 957.0,124.0 929.0,117.0" fill="#a5a5c8" stroke="#9090b2" stroke-width="0.4" stroke-linejoin="round"/><polygon points="889.8,105.9 903.0,95.0 914.3,99.0 917.0,106.0 929.0,117.0 930.0,130.0 906.9,131.0" fill="#a3a3c8" stroke="#9090b2" stroke-width="0.4" stroke-linejoin="round"/><polygon points="929.0,117.0 957.0,124.0 959.1,131.0 932.2,137.3 906.9,131.0 930.0,130.0" fill="#9ea1c2" stroke="#9090b2" stroke-width="0.4" stroke-linejoin="round"/><line x1="926.8" y1="99" x2="933.1" y2="74.9" stroke="#eea012" stroke-width="2"/><circle cx="928.9" cy="87.4" r="4.1" fill="url(#ball)"/><g transform="translate(902.8,74.9) rotate(20)" stroke="#55556e" stroke-width="1.1" fill="none"><line x1="0" y1="0" x2="0" y2="-5"/><line x1="0" y1="0" x2="-4.5" y2="3"/><line x1="0" y1="0" x2="4.5" y2="3"/></g><g transform="translate(942.5,63.4) rotate(-10)" stroke="#55556e" stroke-width="1.1" fill="none"><line x1="0" y1="0" x2="0" y2="-5"/><line x1="0" y1="0" x2="-4.5" y2="3"/><line x1="0" y1="0" x2="4.5" y2="3"/></g><g transform="translate(960.3,91.6) rotate(0)" stroke="#55556e" stroke-width="1.1" fill="none"><line x1="0" y1="0" x2="0" y2="-5"/><line x1="0" y1="0" x2="-4.5" y2="3"/><line x1="0" y1="0" x2="4.5" y2="3"/></g><g transform="translate(917.4,97.9) rotate(30)" stroke="#55556e" stroke-width="1.1" fill="none"><line x1="0" y1="0" x2="0" y2="-5"/><line x1="0" y1="0" x2="-4.5" y2="3"/><line x1="0" y1="0" x2="4.5" y2="3"/></g><g transform="translate(905.9,116.7) rotate(0)" stroke="#55556e" stroke-width="1.1" fill="none"><line x1="0" y1="0" x2="0" y2="-5"/><line x1="0" y1="0" x2="-4.5" y2="3"/><line x1="0" y1="0" x2="4.5" y2="3"/></g><g transform="translate(949.9,117.8) rotate(15)" stroke="#55556e" stroke-width="1.1" fill="none"><line x1="0" y1="0" x2="0" y2="-5"/><line x1="0" y1="0" x2="-4.5" y2="3"/><line x1="0" y1="0" x2="4.5" y2="3"/></g><g transform="translate(967.6,108.3) rotate(-30)" stroke="#55556e" stroke-width="1.1" fill="none"><line x1="0" y1="0" x2="0" y2="-5"/><line x1="0" y1="0" x2="-4.5" y2="3"/><line x1="0" y1="0" x2="4.5" y2="3"/></g><g transform="translate(657.95,203.44) scale(0.387,0.383)"><polygon points="198.0,90.5 273.0,85.0 331.0,94.0 297.0,107.0 209.5,102.0" fill="#9090ae" stroke="#8f8fb0" stroke-width="0.5" stroke-linejoin="round"/><polygon points="209.5,102.0 297.0,107.0 311.0,181.0 279.0,146.0 211.0,190.0 181.0,180.0" fill="#9b9bb8" stroke="#8f8fb0" stroke-width="0.5" stroke-linejoin="round"/><polygon points="198.0,90.5 209.5,102.0 181.0,180.0 150.0,208.0 163.0,170.0" fill="#9d9ec2" stroke="#8f8fb0" stroke-width="0.5" stroke-linejoin="round"/><polygon points="331.0,94.0 372.0,163.0 362.0,211.0 338.0,198.0 311.0,181.0 297.0,107.0" fill="#a6a6ca" stroke="#8f8fb0" stroke-width="0.5" stroke-linejoin="round"/><polygon points="150.0,208.0 181.0,180.0 211.0,190.0 215.0,206.0 244.5,225.0 249.0,267.0 188.0,267.0" fill="#a3a3c8" stroke="#8f8fb0" stroke-width="0.5" stroke-linejoin="round"/><polygon points="211.0,190.0 279.0,146.0 311.0,181.0 244.5,225.0 215.0,206.0" fill="#b4b4d2" stroke="#8f8fb0" stroke-width="0.5" stroke-linejoin="round"/><polygon points="244.5,225.0 311.0,181.0 338.0,198.0 312.0,266.0 249.0,267.0" fill="#a5a5c8" stroke="#8f8fb0" stroke-width="0.5" stroke-linejoin="round"/><polygon points="338.0,198.0 362.0,211.0 326.0,278.0 312.0,266.0" fill="#9798b6" stroke="#8f8fb0" stroke-width="0.5" stroke-linejoin="round"/><polygon points="188.0,267.0 249.0,267.0 312.0,266.0 326.0,278.0 252.0,286.0 194.0,277.0" fill="#9ca0bf" stroke="#8f8fb0" stroke-width="0.5" stroke-linejoin="round"/><g opacity="0.60"><line x1="214.0" y1="113.3" x2="224.3" y2="125.0" stroke="#c0b8d8" stroke-width="2.2"/><line x1="224.3" y1="125.0" x2="223.7" y2="141.3" stroke="#c0b8d8" stroke-width="2.2"/><line x1="223.7" y1="141.3" x2="240.5" y2="139.9" stroke="#c0b8d8" stroke-width="2.2"/><circle cx="214.0" cy="113.3" r="2.2" fill="#7d7d9a"/><circle cx="224.3" cy="125.0" r="3.1" fill="#c48ab8"/><circle cx="223.7" cy="141.3" r="3.1" fill="#c48ab8"/><circle cx="240.5" cy="139.9" r="2.2" fill="#7d7d9a"/></g><g opacity="0.60"><line x1="209.5" y1="159.0" x2="198.3" y2="168.5" stroke="#c0b8d8" stroke-width="2.2"/><line x1="198.3" y1="168.5" x2="184.0" y2="164.0" stroke="#c0b8d8" stroke-width="2.2"/><circle cx="209.5" cy="159.0" r="2.2" fill="#7d7d9a"/><circle cx="198.3" cy="168.5" r="3.1" fill="#c48ab8"/><circle cx="184.0" cy="164.0" r="2.2" fill="#7d7d9a"/></g><g opacity="0.60"><line x1="230.2" y1="170.9" x2="242.0" y2="179.7" stroke="#c0b8d8" stroke-width="2.2"/><line x1="242.0" y1="179.7" x2="249.4" y2="191.5" stroke="#c0b8d8" stroke-width="2.2"/><line x1="249.4" y1="191.5" x2="261.0" y2="184.0" stroke="#c0b8d8" stroke-width="2.2"/><circle cx="230.2" cy="170.9" r="2.2" fill="#7d7d9a"/><circle cx="242.0" cy="179.7" r="3.1" fill="#c48ab8"/><circle cx="249.4" cy="191.5" r="3.1" fill="#c48ab8"/><circle cx="261.0" cy="184.0" r="2.0" fill="#d8d0ea"/></g><g opacity="0.60"><line x1="280.4" y1="199.0" x2="281.9" y2="187.0" stroke="#c0b8d8" stroke-width="2.2"/><line x1="281.9" y1="187.0" x2="298.0" y2="196.0" stroke="#c0b8d8" stroke-width="2.2"/><circle cx="280.4" cy="199.0" r="3.1" fill="#c48ab8"/><circle cx="281.9" cy="187.0" r="2.0" fill="#d8d0ea"/><circle cx="298.0" cy="196.0" r="3.1" fill="#c48ab8"/></g><g opacity="0.55"><line x1="200" y1="192" x2="212" y2="188" stroke="#55556a" stroke-width="1.1"/><line x1="214" y1="183" x2="219" y2="172" stroke="#55556a" stroke-width="1.1"/><text x="214" y="190" font-family="Liberation Sans" font-size="8" fill="#55556a" text-anchor="middle">C</text><text transform="translate(222,198) rotate(60)" font-family="Liberation Sans" font-size="8" fill="#55556a" text-anchor="middle">O</text></g><line x1="254.8" y1="188.3" x2="268.3" y2="133" stroke="#eea012" stroke-width="4.6"/><polygon points="264.0,133.5 274.0,135.3 269.8,127.0" fill="#eea012" /><circle cx="261" cy="162" r="10.2" fill="url(#ball)"/><g opacity="1.00"><line x1="152.2" y1="103.0" x2="166.0" y2="107.4" stroke="#c4c4c4" stroke-width="3"/><line x1="152.2" y1="103.0" x2="166.0" y2="107.4" stroke="#eeeeee" stroke-width="1.2"/><line x1="166.0" y1="107.4" x2="156.2" y2="119.2" stroke="#c4c4c4" stroke-width="3"/><line x1="166.0" y1="107.4" x2="156.2" y2="119.2" stroke="#eeeeee" stroke-width="1.2"/><line x1="156.2" y1="119.2" x2="153.7" y2="126.6" stroke="#c4c4c4" stroke-width="3"/><line x1="156.2" y1="119.2" x2="153.7" y2="126.6" stroke="#eeeeee" stroke-width="1.2"/><circle cx="152.2" cy="103.0" r="2.6" fill="#23263a"/><circle cx="166.0" cy="107.4" r="3.7" fill="url(#rball)"/><circle cx="156.2" cy="119.2" r="2.6" fill="#23263a"/><circle cx="153.7" cy="126.6" r="3.7" fill="url(#rball)"/></g><g opacity="1.00"><line x1="167.2" y1="141.9" x2="162.8" y2="154.7" stroke="#c4c4c4" stroke-width="3"/><line x1="167.2" y1="141.9" x2="162.8" y2="154.7" stroke="#eeeeee" stroke-width="1.2"/><line x1="162.8" y1="154.7" x2="157.9" y2="161.0" stroke="#c4c4c4" stroke-width="3"/><line x1="162.8" y1="154.7" x2="157.9" y2="161.0" stroke="#eeeeee" stroke-width="1.2"/><line x1="157.9" y1="161.0" x2="167.7" y2="170.2" stroke="#c4c4c4" stroke-width="3"/><line x1="157.9" y1="161.0" x2="167.7" y2="170.2" stroke="#eeeeee" stroke-width="1.2"/><circle cx="167.2" cy="141.9" r="2.6" fill="#23263a"/><circle cx="162.8" cy="154.7" r="3.7" fill="url(#rball)"/><circle cx="157.9" cy="161.0" r="2.6" fill="#23263a"/><circle cx="167.7" cy="170.2" r="3.7" fill="url(#rball)"/></g><g opacity="1.00"><line x1="126.0" y1="174.4" x2="128.7" y2="189.2" stroke="#c4c4c4" stroke-width="3"/><line x1="126.0" y1="174.4" x2="128.7" y2="189.2" stroke="#eeeeee" stroke-width="1.2"/><line x1="128.7" y1="189.2" x2="118.6" y2="198.1" stroke="#c4c4c4" stroke-width="3"/><line x1="128.7" y1="189.2" x2="118.6" y2="198.1" stroke="#eeeeee" stroke-width="1.2"/><line x1="118.6" y1="198.1" x2="133.4" y2="202.5" stroke="#c4c4c4" stroke-width="3"/><line x1="118.6" y1="198.1" x2="133.4" y2="202.5" stroke="#eeeeee" stroke-width="1.2"/><circle cx="126.0" cy="174.4" r="2.6" fill="#23263a"/><circle cx="128.7" cy="189.2" r="3.7" fill="url(#rball)"/><circle cx="118.6" cy="198.1" r="3.7" fill="url(#rball)"/><circle cx="133.4" cy="202.5" r="2.6" fill="#23263a"/></g><g opacity="1.00"><line x1="145.9" y1="257.9" x2="158.3" y2="266.2" stroke="#c4c4c4" stroke-width="3"/><line x1="145.9" y1="257.9" x2="158.3" y2="266.2" stroke="#eeeeee" stroke-width="1.2"/><line x1="158.3" y1="266.2" x2="153.3" y2="270.6" stroke="#c4c4c4" stroke-width="3"/><line x1="158.3" y1="266.2" x2="153.3" y2="270.6" stroke="#eeeeee" stroke-width="1.2"/><line x1="153.3" y1="270.6" x2="144.4" y2="277.4" stroke="#c4c4c4" stroke-width="3"/><line x1="153.3" y1="270.6" x2="144.4" y2="277.4" stroke="#eeeeee" stroke-width="1.2"/><circle cx="145.9" cy="257.9" r="2.6" fill="#23263a"/><circle cx="158.3" cy="266.2" r="3.7" fill="url(#rball)"/><circle cx="153.3" cy="270.6" r="2.6" fill="#23263a"/><circle cx="144.4" cy="277.4" r="3.7" fill="url(#rball)"/></g><g opacity="1.00"><line x1="239.4" y1="55.2" x2="242.4" y2="70.4" stroke="#c4c4c4" stroke-width="3"/><line x1="239.4" y1="55.2" x2="242.4" y2="70.4" stroke="#eeeeee" stroke-width="1.2"/><line x1="242.4" y1="70.4" x2="232.5" y2="79.7" stroke="#c4c4c4" stroke-width="3"/><line x1="242.4" y1="70.4" x2="232.5" y2="79.7" stroke="#eeeeee" stroke-width="1.2"/><line x1="232.5" y1="79.7" x2="246.9" y2="83.6" stroke="#c4c4c4" stroke-width="3"/><line x1="232.5" y1="79.7" x2="246.9" y2="83.6" stroke="#eeeeee" stroke-width="1.2"/><circle cx="239.4" cy="55.2" r="2.6" fill="#23263a"/><circle cx="242.4" cy="70.4" r="3.7" fill="url(#rball)"/><circle cx="232.5" cy="79.7" r="3.7" fill="url(#rball)"/><circle cx="246.9" cy="83.6" r="2.6" fill="#23263a"/></g><g opacity="1.00"><line x1="279.8" y1="85.2" x2="285.7" y2="82.8" stroke="#c4c4c4" stroke-width="3"/><line x1="279.8" y1="85.2" x2="285.7" y2="82.8" stroke="#eeeeee" stroke-width="1.2"/><line x1="285.7" y1="82.8" x2="292.0" y2="86.0" stroke="#c4c4c4" stroke-width="3"/><line x1="285.7" y1="82.8" x2="292.0" y2="86.0" stroke="#eeeeee" stroke-width="1.2"/><circle cx="279.8" cy="85.2" r="2.6" fill="#23263a"/><circle cx="285.7" cy="82.8" r="3.7" fill="url(#rball)"/><circle cx="292.0" cy="86.0" r="2.2" fill="#7d7d9a"/></g><g opacity="1.00"><line x1="307.4" y1="96.0" x2="300.5" y2="108.8" stroke="#c4c4c4" stroke-width="3"/><line x1="307.4" y1="96.0" x2="300.5" y2="108.8" stroke="#eeeeee" stroke-width="1.2"/><circle cx="307.4" cy="96.0" r="3.7" fill="url(#rball)"/><circle cx="300.5" cy="108.8" r="2.6" fill="#23263a"/></g><g opacity="1.00"><line x1="356.0" y1="77.7" x2="356.8" y2="92.5" stroke="#c4c4c4" stroke-width="3"/><line x1="356.0" y1="77.7" x2="356.8" y2="92.5" stroke="#eeeeee" stroke-width="1.2"/><line x1="356.8" y1="92.5" x2="363.9" y2="91.3" stroke="#c4c4c4" stroke-width="3"/><line x1="356.8" y1="92.5" x2="363.9" y2="91.3" stroke="#eeeeee" stroke-width="1.2"/><line x1="363.9" y1="91.3" x2="371.3" y2="90.0" stroke="#c4c4c4" stroke-width="3"/><line x1="363.9" y1="91.3" x2="371.3" y2="90.0" stroke="#eeeeee" stroke-width="1.2"/><circle cx="356.0" cy="77.7" r="2.6" fill="#23263a"/><circle cx="356.8" cy="92.5" r="3.7" fill="url(#rball)"/><circle cx="363.9" cy="91.3" r="3.7" fill="url(#rball)"/><circle cx="371.3" cy="90.0" r="2.6" fill="#23263a"/></g><g opacity="1.00"><line x1="378.2" y1="138.4" x2="391.7" y2="141.8" stroke="#c4c4c4" stroke-width="3"/><line x1="378.2" y1="138.4" x2="391.7" y2="141.8" stroke="#eeeeee" stroke-width="1.2"/><line x1="391.7" y1="141.8" x2="402.8" y2="151.7" stroke="#c4c4c4" stroke-width="3"/><line x1="391.7" y1="141.8" x2="402.8" y2="151.7" stroke="#eeeeee" stroke-width="1.2"/><line x1="402.8" y1="151.7" x2="413.4" y2="139.3" stroke="#c4c4c4" stroke-width="3"/><line x1="402.8" y1="151.7" x2="413.4" y2="139.3" stroke="#eeeeee" stroke-width="1.2"/><circle cx="378.2" cy="138.4" r="2.6" fill="#23263a"/><circle cx="391.7" cy="141.8" r="3.7" fill="url(#rball)"/><circle cx="402.8" cy="151.7" r="3.7" fill="url(#rball)"/><circle cx="413.4" cy="139.3" r="2.6" fill="#23263a"/></g><g opacity="1.00"><line x1="372.5" y1="191.0" x2="386.7" y2="194.6" stroke="#c4c4c4" stroke-width="3"/><line x1="372.5" y1="191.0" x2="386.7" y2="194.6" stroke="#eeeeee" stroke-width="1.2"/><line x1="386.7" y1="194.6" x2="387.9" y2="219.8" stroke="#c4c4c4" stroke-width="3"/><line x1="386.7" y1="194.6" x2="387.9" y2="219.8" stroke="#eeeeee" stroke-width="1.2"/><line x1="387.9" y1="219.8" x2="400.0" y2="216.8" stroke="#c4c4c4" stroke-width="3"/><line x1="387.9" y1="219.8" x2="400.0" y2="216.8" stroke="#eeeeee" stroke-width="1.2"/><circle cx="372.5" cy="191.0" r="2.6" fill="#23263a"/><circle cx="386.7" cy="194.6" r="3.7" fill="url(#rball)"/><circle cx="387.9" cy="219.8" r="3.7" fill="url(#rball)"/><circle cx="400.0" cy="216.8" r="2.6" fill="#23263a"/></g><g opacity="1.00"><line x1="355.7" y1="237.8" x2="369.6" y2="244.9" stroke="#c4c4c4" stroke-width="3"/><line x1="355.7" y1="237.8" x2="369.6" y2="244.9" stroke="#eeeeee" stroke-width="1.2"/><line x1="369.6" y1="244.9" x2="368.1" y2="259.1" stroke="#c4c4c4" stroke-width="3"/><line x1="369.6" y1="244.9" x2="368.1" y2="259.1" stroke="#eeeeee" stroke-width="1.2"/><line x1="368.1" y1="259.1" x2="361.3" y2="264.4" stroke="#c4c4c4" stroke-width="3"/><line x1="368.1" y1="259.1" x2="361.3" y2="264.4" stroke="#eeeeee" stroke-width="1.2"/><circle cx="355.7" cy="237.8" r="2.6" fill="#23263a"/><circle cx="369.6" cy="244.9" r="3.7" fill="url(#rball)"/><circle cx="368.1" cy="259.1" r="2.6" fill="#23263a"/><circle cx="361.3" cy="264.4" r="3.7" fill="url(#rball)"/></g><g opacity="1.00"><line x1="335.0" y1="140.0" x2="335.0" y2="151.5" stroke="#c4c4c4" stroke-width="3"/><line x1="335.0" y1="140.0" x2="335.0" y2="151.5" stroke="#eeeeee" stroke-width="1.2"/><circle cx="335.0" cy="140.0" r="2.6" fill="#23263a"/><circle cx="335.0" cy="151.5" r="3.7" fill="url(#rball)"/></g><g opacity="1.00"><line x1="333.2" y1="169.5" x2="345.4" y2="170.4" stroke="#c4c4c4" stroke-width="3"/><line x1="333.2" y1="169.5" x2="345.4" y2="170.4" stroke="#eeeeee" stroke-width="1.2"/><circle cx="333.2" cy="169.5" r="2.6" fill="#23263a"/><circle cx="345.4" cy="170.4" r="3.7" fill="url(#rball)"/></g><g opacity="1.00"><line x1="190.8" y1="246.4" x2="196.8" y2="260.2" stroke="#c4c4c4" stroke-width="3"/><line x1="190.8" y1="246.4" x2="196.8" y2="260.2" stroke="#eeeeee" stroke-width="1.2"/><circle cx="190.8" cy="246.4" r="3.7" fill="url(#rball)"/><circle cx="196.8" cy="260.2" r="2.6" fill="#23263a"/></g><g opacity="1.00"><line x1="211.6" y1="241.0" x2="221.8" y2="241.8" stroke="#c4c4c4" stroke-width="3"/><line x1="211.6" y1="241.0" x2="221.8" y2="241.8" stroke="#eeeeee" stroke-width="1.2"/><circle cx="211.6" cy="241.0" r="3.7" fill="url(#rball)"/><circle cx="221.8" cy="241.8" r="2.6" fill="#23263a"/></g><g opacity="1.00"><line x1="260.5" y1="232.0" x2="269.7" y2="232.5" stroke="#c4c4c4" stroke-width="3"/><line x1="260.5" y1="232.0" x2="269.7" y2="232.5" stroke="#eeeeee" stroke-width="1.2"/><circle cx="260.5" cy="232.0" r="3.7" fill="url(#rball)"/><circle cx="269.7" cy="232.5" r="2.6" fill="#23263a"/></g><g opacity="1.00"><line x1="278.6" y1="247.0" x2="277.6" y2="258.8" stroke="#c4c4c4" stroke-width="3"/><line x1="278.6" y1="247.0" x2="277.6" y2="258.8" stroke="#eeeeee" stroke-width="1.2"/><circle cx="278.6" cy="247.0" r="3.7" fill="url(#rball)"/><circle cx="277.6" cy="258.8" r="2.6" fill="#23263a"/></g><text transform="translate(262.3,91.3) rotate(0.0)" font-family="Liberation Sans" font-size="9.0" text-anchor="middle" dominant-baseline="central" fill="#1a1a22">O</text><line x1="264.9" y1="95.3" x2="270.1" y2="98.9" stroke="#1a1a22" stroke-width="1.1" stroke-linecap="round"/><line x1="266.3" y1="93.1" x2="271.5" y2="96.7" stroke="#1a1a22" stroke-width="1.1" stroke-linecap="round"/><text transform="translate(274.1,99.1) rotate(0.0)" font-family="Liberation Sans" font-size="9.0" text-anchor="middle" dominant-baseline="central" fill="#1a1a22">C</text><line x1="277.7" y1="97.0" x2="281.8" y2="95.0" stroke="#1a1a22" stroke-width="1.5" stroke-linecap="round"/><text transform="translate(286.3,92.6) rotate(0.0)" font-family="Liberation Sans" font-size="9.0" text-anchor="middle" dominant-baseline="central" fill="#1a1a22">O</text><text transform="translate(289.9,99.9) rotate(45.0)" font-family="Liberation Sans" font-size="9.0" text-anchor="middle" dominant-baseline="central" fill="#1a1a22">H</text><line x1="274.1" y1="103.0" x2="274.1" y2="112.9" stroke="#1a1a22" stroke-width="1.5" stroke-linecap="round"/><text transform="translate(176.7,113.6) rotate(0.0)" font-family="Liberation Sans" font-size="9.5" text-anchor="middle" dominant-baseline="central" fill="#1a1a22">OH</text><line x1="173.7" y1="119.2" x2="173.7" y2="123.1" stroke="#1a1a22" stroke-width="1.5" stroke-linecap="round"/><text transform="translate(173.3,128.3) rotate(0.0)" font-family="Liberation Sans" font-size="9.0" text-anchor="middle" dominant-baseline="central" fill="#1a1a22">C</text><line x1="170.5" y1="128.9" x2="165.8" y2="131.5" stroke="#1a1a22" stroke-width="1.1" stroke-linecap="round"/><line x1="171.7" y1="131.1" x2="167.0" y2="133.7" stroke="#1a1a22" stroke-width="1.1" stroke-linecap="round"/><text transform="translate(161.6,134.3) rotate(0.0)" font-family="Liberation Sans" font-size="9.0" text-anchor="middle" dominant-baseline="central" fill="#1a1a22">O</text><line x1="176.7" y1="129.6" x2="185.3" y2="134.7" stroke="#1a1a22" stroke-width="1.5" stroke-linecap="round"/><text transform="translate(177.5,221.5) rotate(0.0)" font-family="Liberation Sans" font-size="9.0" text-anchor="middle" dominant-baseline="central" fill="#1a1a22">O</text><line x1="178.5" y1="226.8" x2="181.0" y2="231.6" stroke="#1a1a22" stroke-width="1.1" stroke-linecap="round"/><line x1="180.9" y1="225.6" x2="183.4" y2="230.4" stroke="#1a1a22" stroke-width="1.1" stroke-linecap="round"/><text transform="translate(184.0,234.4) rotate(0.0)" font-family="Liberation Sans" font-size="9.0" text-anchor="middle" dominant-baseline="central" fill="#1a1a22">C</text><line x1="189.1" y1="235.3" x2="198.6" y2="236.1" stroke="#1a1a22" stroke-width="1.5" stroke-linecap="round"/><line x1="181.4" y1="238.7" x2="176.2" y2="246.0" stroke="#1a1a22" stroke-width="1.5" stroke-linecap="round"/><text transform="translate(309.7,168.1) rotate(0.0)" font-family="Liberation Sans" font-size="9.0" text-anchor="middle" dominant-baseline="central" fill="#1a1a22">O</text><line x1="314.9" y1="169.4" x2="319.2" y2="169.4" stroke="#1a1a22" stroke-width="1.1" stroke-linecap="round"/><line x1="314.9" y1="166.8" x2="319.2" y2="166.8" stroke="#1a1a22" stroke-width="1.1" stroke-linecap="round"/><text transform="translate(323.5,168.1) rotate(0.0)" font-family="Liberation Sans" font-size="9.0" text-anchor="middle" dominant-baseline="central" fill="#1a1a22">C</text><line x1="326.1" y1="163.8" x2="330.9" y2="156.0" stroke="#1a1a22" stroke-width="1.5" stroke-linecap="round"/><line x1="326.6" y1="172.4" x2="330.9" y2="180.2" stroke="#1a1a22" stroke-width="1.5" stroke-linecap="round"/><text transform="translate(299.7,222.8) rotate(0.0)" font-family="Liberation Sans" font-size="9.0" text-anchor="middle" dominant-baseline="central" fill="#1a1a22">O</text><line x1="296.5" y1="227.8" x2="294.3" y2="232.8" stroke="#1a1a22" stroke-width="1.1" stroke-linecap="round"/><line x1="298.9" y1="228.8" x2="296.7" y2="233.8" stroke="#1a1a22" stroke-width="1.1" stroke-linecap="round"/><text transform="translate(293.8,236.0) rotate(0.0)" font-family="Liberation Sans" font-size="9.0" text-anchor="middle" dominant-baseline="central" fill="#1a1a22">C</text><line x1="297.7" y1="240.5" x2="300.5" y2="243.8" stroke="#1a1a22" stroke-width="1.5" stroke-linecap="round"/><text transform="translate(303.3,247.1) rotate(0.0)" font-family="Liberation Sans" font-size="9.0" text-anchor="middle" dominant-baseline="central" fill="#1a1a22">O</text><text transform="translate(296.6,251.6) rotate(45.0)" font-family="Liberation Sans" font-size="9.0" text-anchor="middle" dominant-baseline="central" fill="#1a1a22">H</text><line x1="290.0" y1="236.6" x2="281.1" y2="238.8" stroke="#1a1a22" stroke-width="1.5" stroke-linecap="round"/><polygon points="312.4,62.8 311.6,77.0 307.7,75.7 300.8,85.2 301.6,70.9 306.0,72.2" fill="#5a63e8" stroke="#5a63e8" stroke-width="0.6" stroke-linejoin="round"/><polygon points="363.4,151.2 354.0,160.3 353.1,156.5 340.2,160.3 348.8,151.2 350.1,154.3" fill="#5a63e8" stroke="#5a63e8" stroke-width="0.6" stroke-linejoin="round"/><polygon points="179.2,140.4 178.8,153.7 175.3,151.2 168.4,162.6 169.9,149.7 172.8,148.8" fill="#5a63e8" stroke="#5a63e8" stroke-width="0.6" stroke-linejoin="round"/><polygon points="286.7,215.8 285.7,229.2 282.8,228.2 274.4,238.0 275.8,224.7 279.3,225.7" fill="#5a63e8" stroke="#5a63e8" stroke-width="0.6" stroke-linejoin="round"/><polygon points="198.1,213.0 203.0,223.5 204.8,224.8 200.7,238.5 199.2,229.0 194.8,226.6" fill="#5a63e8" stroke="#5a63e8" stroke-width="0.6" stroke-linejoin="round"/></g><line x1="844.7" y1="95.9" x2="881.5" y2="95.9" stroke="#3c62d4" stroke-width="1.7"/><polyline points="878,92 882,95.9 878,99.8" fill="none" stroke="#3c62d4" stroke-width="1.7" stroke-linejoin="miter"/><line x1="860.1" y1="270.2" x2="823.3" y2="270.2" stroke="#f39a3c" stroke-width="1.7"/><polyline points="826.7,266.4 822.8,270.2 826.7,274" fill="none" stroke="#f39a3c" stroke-width="1.7" stroke-linejoin="miter"/><polyline points="659.80,46.87 660.64,46.98 661.49,47.09 662.33,47.21 663.17,47.32 664.02,47.44 664.86,47.56 665.70,47.68 666.55,47.80 667.39,47.93 668.23,48.05 669.08,48.18 669.92,48.31 670.76,48.45 671.61,48.58 672.45,48.72 673.29,48.86 674.14,49.00 674.98,49.14 675.83,49.29 676.67,49.44 677.51,49.59 678.36,49.74 679.20,49.89 680.04,50.05 680.89,50.21 681.73,50.37 682.57,50.53 683.42,50.70 684.26,50.87 685.10,51.04 685.95,51.21 686.79,51.39 687.63,51.57 688.48,51.75 689.32,51.94 690.16,52.12 691.01,52.31 691.85,52.51 692.69,52.70 693.54,52.90 694.38,53.10 695.22,53.31 696.07,53.52 696.91,53.73 697.75,53.94 698.60,54.16 699.44,54.38 700.28,54.60 701.13,54.83 701.97,55.06 702.81,55.29 703.66,55.53 704.50,55.77 705.35,56.02 706.19,56.27 707.03,56.52 707.88,56.77 708.72,57.03 709.56,57.29 710.41,57.56 711.25,57.83 712.09,58.11 712.94,58.39 713.78,58.67 714.62,58.96 715.47,59.25 716.31,59.54 717.15,59.84 718.00,60.15 718.84,60.45 719.68,60.77 720.53,61.08 721.37,61.41 722.21,61.73 723.06,62.06 723.90,62.40 724.74,62.74 725.59,63.09 726.43,63.44 727.27,63.79 728.12,64.15 728.96,64.52 729.80,64.89 730.65,65.27 731.49,65.65 732.33,66.04 733.18,66.43 734.02,66.83 734.87,67.23 735.71,67.64 736.55,68.06 737.40,68.48 738.24,68.91 739.08,69.34 739.93,69.78 740.77,70.22 741.61,70.68 742.46,71.13 743.30,71.60 744.14,72.07 744.99,72.54 745.83,73.03 746.67,73.52 747.52,74.02 748.36,74.52 749.20,75.03 750.05,75.55 750.89,76.07 751.73,76.60 752.58,77.14 753.42,77.69 754.26,78.24 755.11,78.80 755.95,79.37 756.79,79.95 757.64,80.53 758.48,81.12 759.32,81.72 760.17,82.33 761.01,82.94 761.85,83.57 762.70,84.20 763.54,84.84 764.39,85.49 765.23,86.14 766.07,86.81 766.92,87.48 767.76,88.16 768.60,88.85 769.45,89.55 770.29,90.26 771.13,90.98 771.98,91.70 772.82,92.44 773.66,93.18 774.51,93.94 775.35,94.70 776.19,95.47 777.04,96.26 777.88,97.05 778.72,97.85 779.57,98.66 780.41,99.48 781.25,100.31 782.10,101.15 782.94,102.00 783.78,102.86 784.63,103.73 785.47,104.62 786.31,105.51 787.16,106.41 788.00,107.32 788.84,108.24 789.69,109.18 790.53,110.12 791.37,111.08 792.22,112.04 793.06,113.02 793.91,114.00 794.75,115.00 795.59,116.01 796.44,117.03 797.28,118.06 798.12,119.10 798.97,120.15 799.81,121.22 800.65,122.29 801.50,123.38 802.34,124.47 803.18,125.58 804.03,126.70 804.87,127.83 805.71,128.98 806.56,130.13 807.40,131.29 808.24,132.47 809.09,133.66 809.93,134.86 810.77,136.07 811.62,137.29 812.46,138.52 813.30,139.76 814.15,141.02 814.99,142.28 815.83,143.56 816.68,144.85 817.52,146.15 818.36,147.46 819.21,148.78 820.05,150.11 820.89,151.45 821.74,152.81 822.58,154.17 823.43,155.55 824.27,156.93 825.11,158.33 825.96,159.74 826.80,161.15 827.64,162.58 828.49,164.01 829.33,165.46 830.17,166.92 831.02,168.38 831.86,169.86 832.70,171.34 833.55,172.84 834.39,174.34 835.23,175.85 836.08,177.37 836.92,178.90 837.76,180.44 838.61,181.98 839.45,183.54 840.29,185.10 841.14,186.66 841.98,188.24 842.82,189.82 843.67,191.41 844.51,193.01 845.35,194.61 846.20,196.21 847.04,197.83 847.88,199.45 848.73,201.07 849.57,202.70 850.41,204.33 851.26,205.97 852.10,207.61 852.95,209.25 853.79,210.90 854.63,212.55 855.48,214.20 856.32,215.86 857.16,217.51 858.01,219.17 858.85,220.83 859.69,222.49 860.54,224.15 861.38,225.80 862.22,227.46 863.07,229.12 863.91,230.78 864.75,232.43 865.60,234.08 866.44,235.73 867.28,237.38 868.13,239.02 868.97,240.66 869.81,242.29 870.66,243.92 871.50,245.54 872.34,247.16 873.19,248.77 874.03,250.37 874.87,251.97 875.72,253.56 876.56,255.14 877.40,256.71 878.25,258.27 879.09,259.83 879.93,261.37 880.78,262.90 881.62,264.42 882.47,265.93 883.31,267.43 884.15,268.92 885.00,270.39 885.84,271.85 886.68,273.29 887.53,274.73 888.37,276.14 889.21,277.54 890.06,278.93 890.90,280.30 891.74,281.66 892.59,283.00 893.43,284.32 894.27,285.62 895.12,286.91 895.96,288.17 896.80,289.42 897.65,290.65 898.49,291.87 899.33,293.06 900.18,294.23 901.02,295.39 901.86,296.52 902.71,297.63 903.55,298.73 904.39,299.80 905.24,300.85 906.08,301.88 906.92,302.89 907.77,303.88 908.61,304.84 909.45,305.79 910.30,306.71 911.14,307.62 911.99,308.50 912.83,309.35 913.67,310.19 914.52,311.01 915.36,311.80 916.20,312.57 917.05,313.32 917.89,314.05 918.73,314.76 919.58,315.45 920.42,316.12 921.26,316.76 922.11,317.39 922.95,317.99 923.79,318.57 924.64,319.14 925.48,319.68 926.32,320.21 927.17,320.71 928.01,321.20 928.85,321.67 929.70,322.12 930.54,322.55 931.38,322.97 932.23,323.37 933.07,323.75 933.91,324.11 934.76,324.46 935.60,324.79 936.44,325.11 937.29,325.41 938.13,325.70 938.97,325.98 939.82,326.24 940.66,326.49 941.50,326.72 942.35,326.94 943.19,327.15 944.04,327.35 944.88,327.54 945.72,327.72 946.57,327.88 947.41,328.04 948.25,328.19 949.10,328.33 949.94,328.46 950.78,328.58 951.63,328.69 952.47,328.80 953.31,328.90 954.16,328.99 955.00,329.07 955.84,329.15 956.69,329.23 957.53,329.30 958.37,329.36 959.22,329.42 960.06,329.47 960.90,329.52 961.75,329.57 962.59,329.61 963.43,329.65 964.28,329.68 965.12,329.72 965.96,329.74 966.81,329.77 967.65,329.80 968.49,329.82 969.34,329.84 970.18,329.86 971.02,329.87 971.87,329.89 972.71,329.90 973.56,329.91 974.40,329.92 975.24,329.93 976.09,329.94 976.93,329.95 977.77,329.95 978.62,329.96 979.46,329.96 980.30,329.97 981.15,329.97 981.99,329.98 982.83,329.98 983.68,329.98 984.52,329.99 985.36,329.99 986.21,329.99 987.05,329.99 987.89,329.99 988.74,329.99 989.58,329.99 990.42,330.00 991.27,330.00 992.11,330.00 992.95,330.00 993.80,330.00 994.64,330.00 995.48,330.00 996.33,330.00 997.17,330.00" fill="none" stroke="#f39a3c" stroke-width="2.1" stroke-linejoin="round"/><polyline points="659.80,42.62 660.64,42.66 661.49,42.71 662.33,42.76 663.17,42.80 664.02,42.85 664.86,42.90 665.70,42.95 666.55,43.00 667.39,43.05 668.23,43.11 669.08,43.16 669.92,43.21 670.76,43.27 671.61,43.32 672.45,43.38 673.29,43.44 674.14,43.49 674.98,43.55 675.83,43.61 676.67,43.67 677.51,43.74 678.36,43.80 679.20,43.86 680.04,43.93 680.89,43.99 681.73,44.06 682.57,44.13 683.42,44.20 684.26,44.27 685.10,44.34 685.95,44.41 686.79,44.48 687.63,44.56 688.48,44.63 689.32,44.71 690.16,44.78 691.01,44.86 691.85,44.94 692.69,45.03 693.54,45.11 694.38,45.19 695.22,45.28 696.07,45.36 696.91,45.45 697.75,45.54 698.60,45.63 699.44,45.72 700.28,45.82 701.13,45.91 701.97,46.01 702.81,46.10 703.66,46.20 704.50,46.30 705.35,46.41 706.19,46.51 707.03,46.62 707.88,46.72 708.72,46.83 709.56,46.94 710.41,47.05 711.25,47.17 712.09,47.28 712.94,47.40 713.78,47.52 714.62,47.64 715.47,47.76 716.31,47.89 717.15,48.01 718.00,48.14 718.84,48.27 719.68,48.40 720.53,48.54 721.37,48.67 722.21,48.81 723.06,48.95 723.90,49.09 724.74,49.24 725.59,49.39 726.43,49.54 727.27,49.69 728.12,49.84 728.96,50.00 729.80,50.15 730.65,50.32 731.49,50.48 732.33,50.64 733.18,50.81 734.02,50.98 734.87,51.16 735.71,51.33 736.55,51.51 737.40,51.69 738.24,51.87 739.08,52.06 739.93,52.25 740.77,52.44 741.61,52.64 742.46,52.84 743.30,53.04 744.14,53.24 744.99,53.45 745.83,53.66 746.67,53.87 747.52,54.09 748.36,54.31 749.20,54.53 750.05,54.75 750.89,54.98 751.73,55.22 752.58,55.45 753.42,55.69 754.26,55.94 755.11,56.18 755.95,56.43 756.79,56.69 757.64,56.95 758.48,57.21 759.32,57.47 760.17,57.74 761.01,58.02 761.85,58.29 762.70,58.57 763.54,58.86 764.39,59.15 765.23,59.44 766.07,59.74 766.92,60.04 767.76,60.35 768.60,60.66 769.45,60.98 770.29,61.30 771.13,61.62 771.98,61.95 772.82,62.29 773.66,62.63 774.51,62.97 775.35,63.32 776.19,63.68 777.04,64.03 777.88,64.40 778.72,64.77 779.57,65.14 780.41,65.52 781.25,65.91 782.10,66.30 782.94,66.70 783.78,67.10 784.63,67.51 785.47,67.92 786.31,68.34 787.16,68.76 788.00,69.20 788.84,69.63 789.69,70.08 790.53,70.53 791.37,70.98 792.22,71.44 793.06,71.91 793.91,72.39 794.75,72.87 795.59,73.36 796.44,73.85 797.28,74.35 798.12,74.86 798.97,75.38 799.81,75.90 800.65,76.43 801.50,76.96 802.34,77.51 803.18,78.06 804.03,78.62 804.87,79.18 805.71,79.76 806.56,80.34 807.40,80.93 808.24,81.52 809.09,82.13 809.93,82.74 810.77,83.36 811.62,83.99 812.46,84.63 813.30,85.27 814.15,85.92 814.99,86.59 815.83,87.26 816.68,87.94 817.52,88.62 818.36,89.32 819.21,90.03 820.05,90.74 820.89,91.46 821.74,92.20 822.58,92.94 823.43,93.69 824.27,94.45 825.11,95.22 825.96,96.00 826.80,96.79 827.64,97.58 828.49,98.39 829.33,99.21 830.17,100.04 831.02,100.87 831.86,101.72 832.70,102.58 833.55,103.45 834.39,104.32 835.23,105.21 836.08,106.11 836.92,107.02 837.76,107.94 838.61,108.87 839.45,109.81 840.29,110.76 841.14,111.72 841.98,112.69 842.82,113.68 843.67,114.67 844.51,115.68 845.35,116.69 846.20,117.72 847.04,118.76 847.88,119.81 848.73,120.87 849.57,121.94 850.41,123.02 851.26,124.11 852.10,125.22 852.95,126.33 853.79,127.46 854.63,128.60 855.48,129.75 856.32,130.91 857.16,132.08 858.01,133.26 858.85,134.46 859.69,135.67 860.54,136.88 861.38,138.11 862.22,139.35 863.07,140.60 863.91,141.86 864.75,143.14 865.60,144.42 866.44,145.72 867.28,147.02 868.13,148.34 868.97,149.67 869.81,151.01 870.66,152.36 871.50,153.72 872.34,155.09 873.19,156.47 874.03,157.87 874.87,159.27 875.72,160.68 876.56,162.11 877.40,163.54 878.25,164.98 879.09,166.44 879.93,167.90 880.78,169.37 881.62,170.85 882.47,172.34 883.31,173.84 884.15,175.35 885.00,176.87 885.84,178.40 886.68,179.93 887.53,181.47 888.37,183.02 889.21,184.58 890.06,186.15 890.90,187.72 891.74,189.30 892.59,190.89 893.43,192.48 894.27,194.08 895.12,195.68 895.96,197.30 896.80,198.91 897.65,200.53 898.49,202.16 899.33,203.79 900.18,205.43 901.02,207.07 901.86,208.71 902.71,210.36 903.55,212.00 904.39,213.66 905.24,215.31 906.08,216.97 906.92,218.62 907.77,220.28 908.61,221.94 909.45,223.60 910.30,225.26 911.14,226.92 911.99,228.57 912.83,230.23 913.67,231.89 914.52,233.54 915.36,235.19 916.20,236.83 917.05,238.48 917.89,240.12 918.73,241.75 919.58,243.38 920.42,245.01 921.26,246.63 922.11,248.24 922.95,249.84 923.79,251.44 924.64,253.04 925.48,254.62 926.32,256.19 927.17,257.76 928.01,259.32 928.85,260.86 929.70,262.40 930.54,263.92 931.38,265.44 932.23,266.94 933.07,268.43 933.91,269.91 934.76,271.37 935.60,272.82 936.44,274.26 937.29,275.68 938.13,277.08 938.97,278.48 939.82,279.85 940.66,281.21 941.50,282.56 942.35,283.88 943.19,285.19 944.04,286.48 944.88,287.76 945.72,289.01 946.57,290.25 947.41,291.47 948.25,292.67 949.10,293.85 949.94,295.01 950.78,296.15 951.63,297.27 952.47,298.37 953.31,299.45 954.16,300.51 955.00,301.54 955.84,302.56 956.69,303.55 957.53,304.53 958.37,305.48 959.22,306.41 960.06,307.32 960.90,308.21 961.75,309.07 962.59,309.92 963.43,310.74 964.28,311.54 965.12,312.32 965.96,313.08 966.81,313.82 967.65,314.53 968.49,315.23 969.34,315.90 970.18,316.55 971.02,317.18 971.87,317.79 972.71,318.38 973.56,318.96 974.40,319.51 975.24,320.04 976.09,320.55 976.93,321.04 977.77,321.52 978.62,321.97 979.46,322.41 980.30,322.83 981.15,323.24 981.99,323.62 982.83,323.99 983.68,324.35 984.52,324.69 985.36,325.01 986.21,325.32 987.05,325.61 987.89,325.89 988.74,326.15 989.58,326.41 990.42,326.64 991.27,326.87 992.11,327.08 992.95,327.29 993.80,327.48 994.64,327.66 995.48,327.83 996.33,327.99 997.17,328.14" fill="none" stroke="#3c62d4" stroke-width="2.1" stroke-linejoin="round"/><rect x="653.8" y="25.3" width="343.6" height="318.9" fill="none" stroke="#111" stroke-width="1.2"/><line x1="653.8" y1="330.0" x2="659" y2="330.0" stroke="#111" stroke-width="1.1"/><line x1="653.8" y1="184.8" x2="659" y2="184.8" stroke="#111" stroke-width="1.1"/><line x1="653.8" y1="39.7" x2="659" y2="39.7" stroke="#111" stroke-width="1.1"/><line x1="659.8" y1="344.2" x2="659.8" y2="338.7" stroke="#111" stroke-width="1"/><line x1="697.4" y1="344.2" x2="697.4" y2="340.4" stroke="#111" stroke-width="1"/><line x1="719.4" y1="344.2" x2="719.4" y2="340.4" stroke="#111" stroke-width="1"/><line x1="735.1" y1="344.2" x2="735.1" y2="340.4" stroke="#111" stroke-width="1"/><line x1="747.2" y1="344.2" x2="747.2" y2="340.4" stroke="#111" stroke-width="1"/><line x1="757.1" y1="344.2" x2="757.1" y2="340.4" stroke="#111" stroke-width="1"/><line x1="765.4" y1="344.2" x2="765.4" y2="340.4" stroke="#111" stroke-width="1"/><line x1="772.7" y1="344.2" x2="772.7" y2="340.4" stroke="#111" stroke-width="1"/><line x1="779.1" y1="344.2" x2="779.1" y2="340.4" stroke="#111" stroke-width="1"/><line x1="784.8" y1="344.2" x2="784.8" y2="338.7" stroke="#111" stroke-width="1"/><line x1="822.4" y1="344.2" x2="822.4" y2="340.4" stroke="#111" stroke-width="1"/><line x1="844.4" y1="344.2" x2="844.4" y2="340.4" stroke="#111" stroke-width="1"/><line x1="860.1" y1="344.2" x2="860.1" y2="340.4" stroke="#111" stroke-width="1"/><line x1="872.2" y1="344.2" x2="872.2" y2="340.4" stroke="#111" stroke-width="1"/><line x1="882.1" y1="344.2" x2="882.1" y2="340.4" stroke="#111" stroke-width="1"/><line x1="890.4" y1="344.2" x2="890.4" y2="340.4" stroke="#111" stroke-width="1"/><line x1="897.7" y1="344.2" x2="897.7" y2="340.4" stroke="#111" stroke-width="1"/><line x1="904.1" y1="344.2" x2="904.1" y2="340.4" stroke="#111" stroke-width="1"/><line x1="909.8" y1="344.2" x2="909.8" y2="338.7" stroke="#111" stroke-width="1"/><line x1="947.4" y1="344.2" x2="947.4" y2="340.4" stroke="#111" stroke-width="1"/><line x1="969.4" y1="344.2" x2="969.4" y2="340.4" stroke="#111" stroke-width="1"/><line x1="985.1" y1="344.2" x2="985.1" y2="340.4" stroke="#111" stroke-width="1"/><text x="648.5" y="334.5" font-family="Liberation Serif" font-size="17" text-anchor="end" fill="#111">0.0</text><text x="648.5" y="189.3" font-family="Liberation Serif" font-size="17" text-anchor="end" fill="#111">0.5</text><text x="648.5" y="44.2" font-family="Liberation Serif" font-size="17" text-anchor="end" fill="#111">1.0</text><text x="659.8" y="361.3" font-family="Liberation Serif" font-size="17" text-anchor="middle" fill="#111">1</text><text x="784.8" y="361.3" font-family="Liberation Serif" font-size="17" text-anchor="middle" fill="#111">10</text><text x="909.8" y="361.3" font-family="Liberation Serif" font-size="17" text-anchor="middle" fill="#111">100</text><text x="803.3" y="380.5" font-family="Liberation Serif" font-size="19" font-style="italic" fill="#111">τ</text><text x="818.6" y="380.5" font-family="Liberation Serif" font-size="18" textLength="30" lengthAdjust="spacingAndGlyphs" fill="#111">(μs)</text><text transform="translate(616.5,254) rotate(-90)" font-family="Liberation Serif" font-size="17" textLength="137" lengthAdjust="spacing" fill="#111">Norm. <tspan font-style="italic">T</tspan><tspan font-size="11" dy="3">1</tspan><tspan dy="-3"> contrast</tspan></text></svg></body></html>
